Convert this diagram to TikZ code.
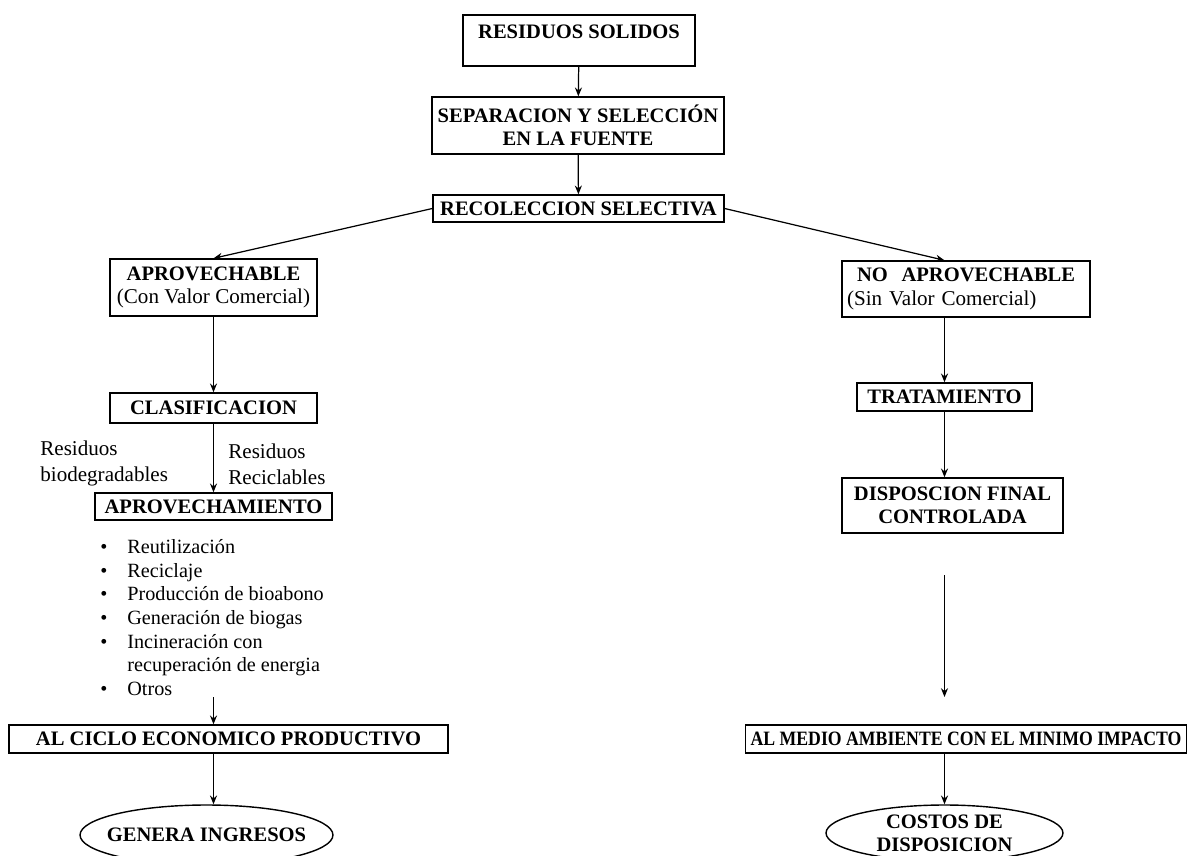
\documentclass[tikz,border=0pt]{standalone}
\usepackage{fontspec}
\setmainfont{Liberation Serif}
\newfontfamily\estrecha[FakeStretch=0.87]{Liberation Serif}
\usetikzlibrary{arrows.meta,shapes.geometric}
\newcommand\titulo{\fontsize{11.7}{13.2}\selectfont\bfseries}
\newcommand\texto{\fontsize{12}{14.6}\selectfont\mdseries}
\newcommand\listafont{\fontsize{11.5}{13.4}\selectfont\mdseries}
\begin{document}
\begin{tikzpicture}[x=0.02cm, y=-0.02cm,
    caja/.style={draw, line width=0.8pt, font=\titulo, align=center, inner sep=0pt},
    elipse/.style={draw, ellipse, line width=0.8pt, font=\titulo, align=center, inner sep=0pt},
    flecha/.style={line width=0.7pt, -{Stealth[length=5pt,width=4pt]}}]
  \useasboundingbox (0,0) rectangle (1188,856);

  % tronco comun
  \node[caja, minimum width=4.64cm, minimum height=1.02cm, text height=0.46cm, text depth=0.56cm] (resid) at (579,40.5) {RESIDUOS SOLIDOS};
  \node[caja, minimum width=5.84cm, minimum height=1.14cm] (sepa) at (578,125.5) {SEPARACION Y SELECCIÓN\\EN LA FUENTE};
  \node[caja, minimum width=5.82cm, minimum height=0.54cm] (recol) at (578.5,208.5) {RECOLECCION SELECTIVA};

  % rama izquierda
  \node[caja, minimum width=4.14cm, minimum height=1.14cm] (aprov) at (213.5,287.5) {APROVECHABLE\\{\texto (Con Valor Comercial)}};
  \node[caja, minimum width=4.14cm, minimum height=0.6cm] (clasif) at (213.5,408) {CLASIFICACION};
  \node[anchor=north west, font=\texto, align=left, inner sep=0pt] (biodeg) at (40,441) {Residuos\\biodegradables};
  \node[anchor=north west, font=\texto, align=left, inner sep=0pt] (recic) at (228,444) {Residuos\\Reciclables};
  \node[caja, minimum width=4.74cm, minimum height=0.54cm] (aprovech) at (213.5,506.5) {APROVECHAMIENTO};
  \node[anchor=north west, font=\listafont, inner sep=0pt] (lista) at (100,537) {%
    \begin{tabular}{@{}l@{\hspace{0.4cm}}l@{}}
      \textbullet & Reutilización\\
      \textbullet & Reciclaje\\
      \textbullet & Producción de bioabono\\
      \textbullet & Generación de biogas\\
      \textbullet & Incineración con\\
                  & recuperación de energia\\
      \textbullet & Otros
    \end{tabular}};
  \coordinate (finlista) at (213.5,697);
  \node[caja, minimum width=8.78cm, minimum height=0.56cm] (ciclo) at (228.5,739) {AL CICLO ECONOMICO PRODUCTIVO};
  \node[elipse, minimum width=5.06cm, minimum height=1.2cm, inner xsep=-0.22cm] (genera) at (206.5,835) {GENERA INGRESOS};

  % rama derecha
  \node[caja, minimum width=4.96cm, minimum height=1.12cm, text width=4.76cm, align=left] (noaprov) at (966,289) {\hspace{0.2cm}NO\ \ APROVECHABLE\\{\texto (Sin Valor Comercial)}};
  \node[caja, minimum width=3.5cm, minimum height=0.56cm] (trat) at (944.5,397) {TRATAMIENTO};
  \node[caja, minimum width=4.42cm, minimum height=1.1cm] (dispo) at (952.5,505.5) {DISPOSCION FINAL\\CONTROLADA};
  \coordinate (libre) at (944.5,575);
  \coordinate (punta) at (944.5,697);
  \node[caja, minimum width=8.82cm, minimum height=0.56cm, font=\estrecha\fontsize{11.6}{13}\selectfont\bfseries] (medio) at (966,739) {AL MEDIO AMBIENTE CON EL MINIMO IMPACTO};
  \node[elipse, minimum width=4.74cm, minimum height=1.12cm] (costos) at (944.5,833) {COSTOS DE\\DISPOSICION};

  % conectores
  \path (resid) edge[flecha] (sepa);
  \path (sepa) edge[flecha] (recol);
  \path (recol.west) edge[flecha] (aprov.north);
  \path (recol.east) edge[flecha] (trat.north |- noaprov.north);
  \path (aprov) edge[flecha] (clasif);
  \path (clasif) edge[flecha] (aprovech);
  \path (finlista) edge[flecha] (finlista |- ciclo.north);
  \path (aprovech.south |- ciclo.south) edge[flecha] (aprovech.south |- genera.north);
  \path (trat.north |- noaprov.south) edge[flecha] (trat);
  \path (trat) edge[flecha] (trat.south |- dispo.north);
  \path (libre) edge[flecha] (punta);
  \path (trat.south |- medio.south) edge[flecha] (costos);
\end{tikzpicture}
\end{document}
